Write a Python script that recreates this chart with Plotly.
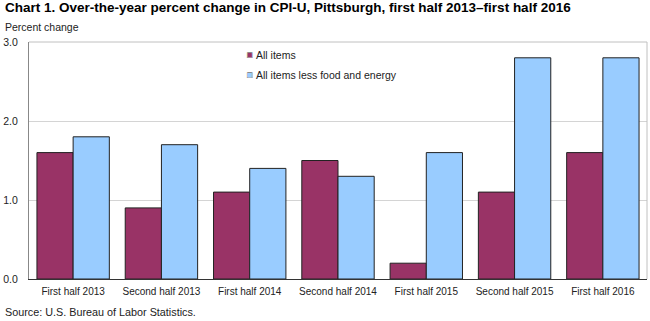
import plotly.graph_objects as go

categories = ["First half 2013", "Second half 2013", "First half 2014", "Second half 2014",
              "First half 2015", "Second half 2015", "First half 2016"]
all_items = [1.6, 0.9, 1.1, 1.5, 0.2, 1.1, 1.6]
core_items = [1.8, 1.7, 1.4, 1.3, 1.6, 2.8, 2.8]
series_names = ["All items", "All items less food and energy"]
series_colors = ["#993366", "#99CCFF"]
y_ticks = [0.0, 1.0, 2.0, 3.0]
y_tick_labels = ["0.0", "1.0", "2.0", "3.0"]

fig = go.Figure()
for vals, name, color in zip([all_items, core_items], series_names, series_colors):
    fig.add_trace(go.Bar(x=categories, y=vals, name=name, showlegend=False,
                         marker=dict(color=color, line=dict(color="#222222", width=1))))

# custom compact legend (small squares close to text, as in reference)
legend_ann = []
for i, (name, color) in enumerate(zip(series_names, series_colors)):
    ypos = 0.945 - i * 0.084
    legend_ann.append(dict(text="■", xref="paper", yref="paper", x=0.357, y=ypos,
                           xanchor="center", yanchor="middle", showarrow=False,
                           font=dict(size=9, color=color)))
    legend_ann.append(dict(text="□", xref="paper", yref="paper", x=0.357, y=ypos,
                           xanchor="center", yanchor="middle", showarrow=False,
                           font=dict(size=9, color="#333333")))
    legend_ann.append(dict(text=name, xref="paper", yref="paper", x=0.364, y=ypos,
                           xanchor="left", yanchor="middle", showarrow=False,
                           font=dict(size=10.5, color="#222222")))

fig.update_layout(
    width=650, height=321,
    margin=dict(l=27, r=3, t=42, b=42),
    paper_bgcolor="white", plot_bgcolor="white",
    font=dict(family="Arial, Liberation Sans, sans-serif", size=10.5, color="#222222"),
    barmode="group", bargap=0.18, bargroupgap=0,
    showlegend=False,
    xaxis=dict(showline=True, linecolor="#333333", linewidth=1, ticks="",
               tickfont=dict(size=10), ticklabelstandoff=3),
    yaxis=dict(range=[0, 3.0], tickvals=y_ticks, ticktext=y_tick_labels,
               showgrid=True, gridcolor="#d4d4d4", gridwidth=1,
               showline=True, linecolor="#888888", linewidth=1, ticks="", zeroline=False,
               tickfont=dict(size=10.5), ticklabelstandoff=8),
    annotations=[
        dict(text="<b>Chart 1. Over-the-year percent change in CPI-U, Pittsburgh, first half 2013–first half 2016</b>",
             xref="paper", yref="paper", x=0, y=1, xanchor="left", yanchor="top",
             xshift=-26, yshift=44, showarrow=False, font=dict(size=13.5, color="#000000")),
        dict(text="Percent change", xref="paper", yref="paper", x=0, y=1, xanchor="left",
             yanchor="top", xshift=-26, yshift=23, showarrow=False, font=dict(size=10.5)),
        dict(text="Source: U.S. Bureau of Labor Statistics.", xref="paper", yref="paper",
             x=0, y=0, xanchor="left", yanchor="bottom", xshift=-26, yshift=-41,
             showarrow=False, font=dict(size=10.8)),
    ] + legend_ann,
    shapes=[
        dict(type="line", xref="paper", yref="paper", x0=0, x1=1, y0=1, y1=1,
             line=dict(color="#c0c0c0", width=1)),
        dict(type="line", xref="paper", yref="paper", x0=1, x1=1, y0=0, y1=1,
             line=dict(color="#c0c0c0", width=1)),
    ],
)

fig.write_html("out.html")
